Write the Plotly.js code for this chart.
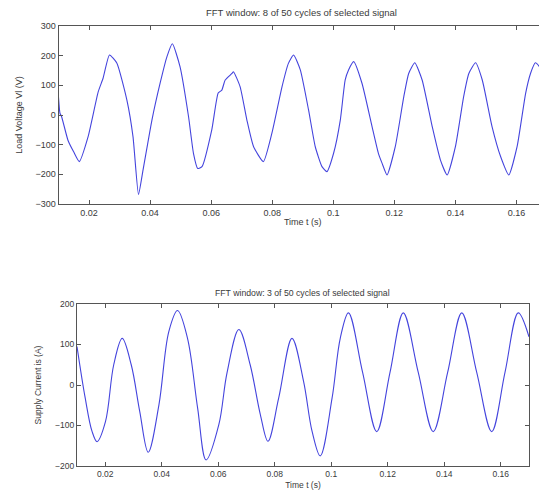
<!DOCTYPE html>
<html>
<head>
<meta charset="utf-8">
<script src="https://cdn.plot.ly/plotly-3.0.1.min.js"></script>
<style>
html,body{margin:0;padding:0;overflow:hidden;background:#fff;}
#chart{width:548px;height:495px;}
</style>
</head>
<body>
<div id="chart"></div>
<script>
// Load voltage (top)
var tV = [0.0100,0.0105,0.0110,0.0131,0.0150,0.0168,0.0197,0.0230,0.0246,0.0267,
  0.0291,0.0324,0.0344,0.0362,0.0377,0.0406,0.0433,0.0455,0.0473,0.0498,
  0.0526,0.0542,0.0556,0.0570,0.0602,0.0623,0.0635,0.0646,0.0668,0.0673,
  0.0695,0.0717,0.0739,0.0771,0.0799,0.0832,0.0853,0.0870,0.0892,0.0919,
  0.0941,0.0963,0.0979,0.1001,0.1023,0.1039,0.1050,0.1067,0.1094,0.1127,
  0.1148,0.1160,0.1176,0.1203,0.1231,0.1247,0.1267,0.1291,0.1324,0.1351,
  0.1373,0.1400,0.1427,0.1444,0.1466,0.1488,0.1520,0.1548,0.1575,0.1602,
  0.1630,0.1646,0.1662,0.1675,0.1700];
var vV = [60,5,-5,-85,-125,-157,-73,78,124,202,
  175,50,-73,-268,-185,-17,108,196,240,163,
  -6,-129,-180,-174,-50,74,84,118,140,146,
  95,-17,-107,-157,-61,95,174,202,152,17,
  -107,-174,-191,-129,-17,118,152,180,107,-39,
  -130,-163,-202,-107,62,140,176,118,-39,-152,
  -202,-107,62,140,176,118,-39,-140,-202,-107,
  73,140,176,163,110];

// Supply current (bottom)
var tI = [0.0100,0.0129,0.0153,0.0171,0.0201,0.0230,0.0260,0.0292,0.0322,0.0352,
  0.0390,0.0425,0.0456,0.0491,0.0527,0.0557,0.0602,0.0631,0.0673,0.0713,
  0.0749,0.0776,0.0814,0.0861,0.0902,0.0932,0.0961,0.1003,0.1032,0.1061,
  0.1111,0.1161,0.1208,0.1255,0.1308,0.1361,0.1412,0.1462,0.1515,0.1568,
  0.1615,0.1662,0.1700];
var iI = [95,-32,-114,-140,-90,50,115,50,-65,-166,
  -49,132,184,116,-57,-185,-98,30,137,50,
  -73,-139,-32,115,9,-114,-175,-32,116,178,
  31,-115,31,178,31,-115,31,178,31,-115,
  31,178,119];

var topTitle = "FFT window: 8 of 50 cycles of selected signal";
var botTitle = "FFT window: 3 of 50 cycles of selected signal";
var xTitle = "Time t (s)";
var yTitleTop = "Load Voltage Vl (V)";
var yTitleBot = "Supply Current is (A)";

var W = 548, H = 495;
function px(x){return x/W;}
function py(y){return 1 - y/H;}

var lineCol = '#4444dd';
var FONT = 'Liberation Sans, Arial, sans-serif';
var txtCol = '#3a3a3a';

function axisCommon(extra){
  var a = {
    showline:true, linecolor:'#555', linewidth:1, mirror:'ticks',
    ticks:'inside', ticklen:4, tickcolor:'#555', tickwidth:1,
    showgrid:false, zeroline:false, fixedrange:true,
    tickfont:{family:FONT,size:9,color:txtCol}
  };
  for (var k in extra) a[k]=extra[k];
  return a;
}

var data = [
  {x:tV, y:vV, type:'scatter', mode:'lines', xaxis:'x', yaxis:'y',
   line:{color:lineCol, width:1.1, shape:'spline', smoothing:0.5}, hoverinfo:'skip'},
  {x:tI, y:iI, type:'scatter', mode:'lines', xaxis:'x2', yaxis:'y2',
   line:{color:lineCol, width:1.1, shape:'spline', smoothing:1}, hoverinfo:'skip'}
];

var layout = {
  width:W, height:H, showlegend:false,
  paper_bgcolor:'#fff', plot_bgcolor:'#fff',
  margin:{l:0,r:0,t:0,b:0},
  font:{family:FONT,color:txtCol,size:9},
  xaxis: axisCommon({domain:[px(58.5),px(547)], range:[0.01,0.17], tick0:0, dtick:0.02, anchor:'y',
    title:{text:xTitle, font:{family:FONT,size:9,color:txtCol}, standoff:1}}),
  yaxis: axisCommon({domain:[py(204),py(26)], range:[-300,300], dtick:100, anchor:'x',
    title:{text:yTitleTop, font:{family:FONT,size:9,color:txtCol}, standoff:11}}),
  xaxis2: axisCommon({domain:[px(77),px(529)], range:[0.01,0.17], tick0:0, dtick:0.02, anchor:'y2',
    tickfont:{family:FONT,size:8.5,color:txtCol},
    title:{text:xTitle, font:{family:FONT,size:8.5,color:txtCol}, standoff:3}}),
  yaxis2: axisCommon({domain:[py(466),py(304)], range:[-200,200], dtick:100, anchor:'x2',
    tickfont:{family:FONT,size:8.5,color:txtCol},
    title:{text:yTitleBot, font:{family:FONT,size:8.5,color:txtCol}, standoff:12}}),
  annotations:[
    {text:topTitle, xref:'paper', yref:'paper', x:px(301), y:py(13), showarrow:false,
     xanchor:'center', yanchor:'middle', font:{family:FONT,size:9.5,color:txtCol}},
    {text:botTitle, xref:'paper', yref:'paper', x:px(302), y:py(293), showarrow:false,
     xanchor:'center', yanchor:'middle', font:{family:FONT,size:8.7,color:txtCol}}
  ]
};

Plotly.newPlot('chart', data, layout, {displayModeBar:false, staticPlot:true});
</script>
</body>
</html>
